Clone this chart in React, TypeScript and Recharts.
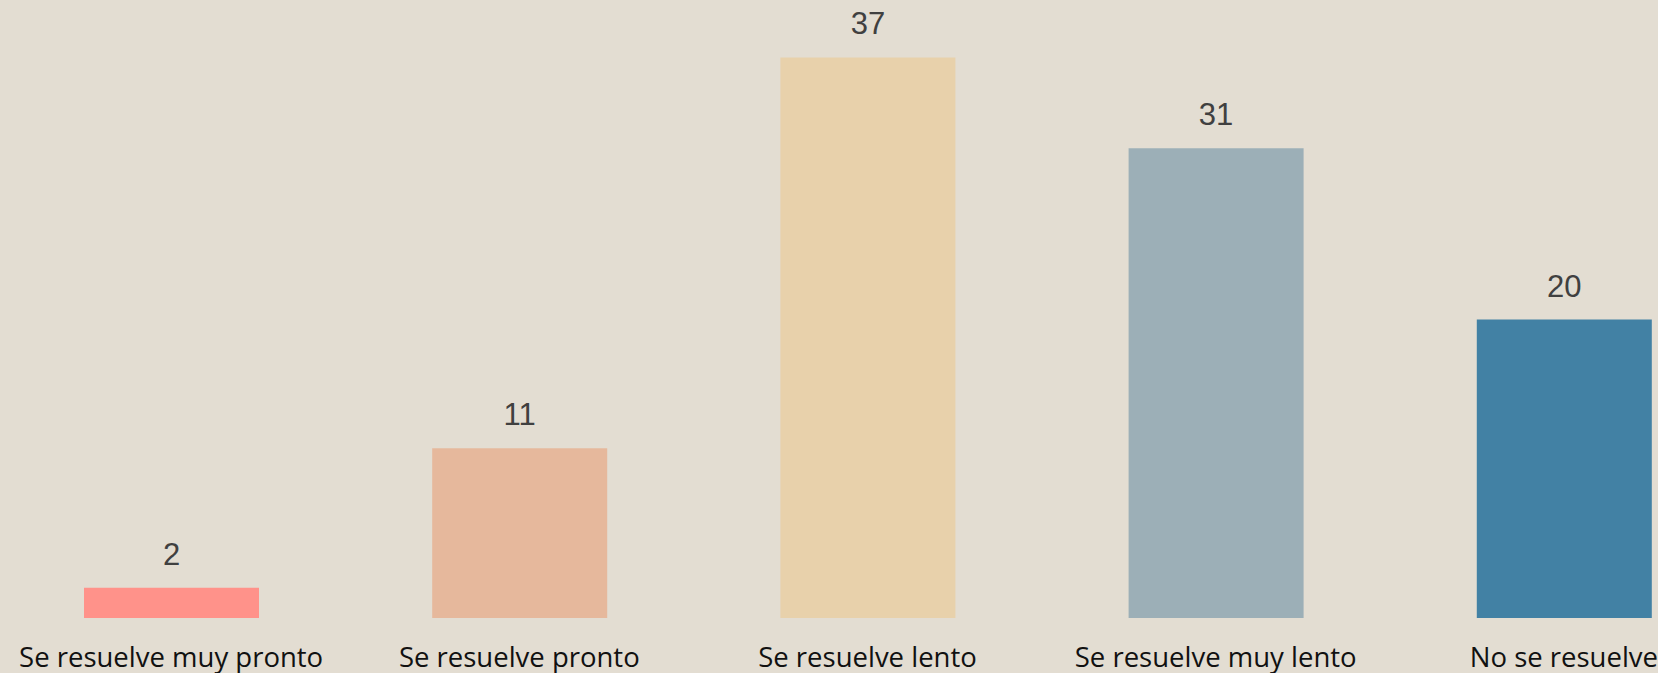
import { BarChart, Bar, XAxis, YAxis, LabelList, Cell } from "recharts";

const categories = [
  "Se resuelve muy pronto",
  "Se resuelve pronto",
  "Se resuelve lento",
  "Se resuelve muy lento",
  "No se resuelve",
];
const values = [2, 11.2, 37, 31, 19.7];
const colors = ["#FF928A", "#E6B89C", "#E8D1AB", "#9CAFB7", "#4281A4"];

const data = categories.map((name, i) => ({ name, value: values[i] }));

const App = () => {
  return (
    <div
      style={{
        position: "fixed",
        left: 0,
        top: 0,
        width: 1658,
        height: 673,
        overflow: "hidden",
        background: "#E3DDD2",
      }}
    >
      <div style={{ position: "absolute", left: -3, top: 0 }}>
        <BarChart
          width={1741}
          height={673}
          data={data}
          margin={{ top: 12, right: 0, bottom: 0, left: 0 }}
        >
          <XAxis
            dataKey="name"
            axisLine={false}
            tickLine={false}
            tickSize={0}
            tickMargin={29}
            height={55}
            interval={0}
            tick={{ fontSize: 27.5, fill: "#111111", fontFamily: "Open Sans" }}
          />
          <YAxis hide domain={[0, 40]} />
          <Bar dataKey="value" barSize={175} isAnimationActive={false}>
            {data.map((d, i) => (
              <Cell key={d.name} fill={colors[i]} />
            ))}
            <LabelList
              dataKey="value"
              position="top"
              offset={23}
              formatter={(v: any) => Math.round(Number(v))}
              style={{ fontSize: 31, fill: "#404040", fontFamily: "Liberation Sans" }}
            />
          </Bar>
        </BarChart>
      </div>
    </div>
  );
};

export default App;
